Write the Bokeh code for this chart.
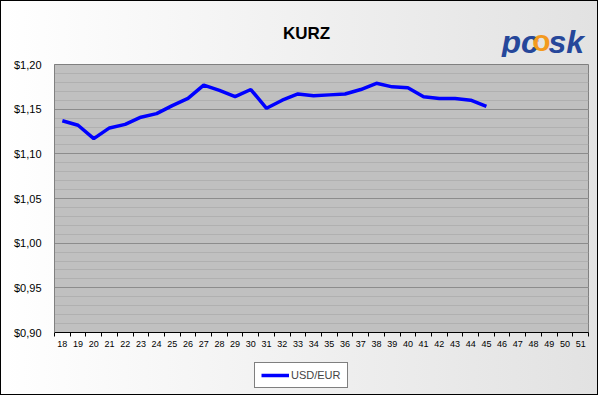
from bokeh.plotting import figure
from bokeh.layouts import column
from bokeh.models import (FixedTicker, Legend, LegendItem, CustomJSTickFormatter)
from bokeh.core.properties import value
from bokeh.embed import file_html
from bokeh.resources import INLINE

# ---- data ----
weeks = [str(w) for w in range(18, 52)]
usd_eur_weeks = [str(w) for w in range(18, 46)]
usd_eur = [1.137, 1.132, 1.117, 1.129, 1.133, 1.141, 1.145, 1.154, 1.162, 1.177,
           1.171, 1.164, 1.172, 1.151, 1.160, 1.167, 1.165, 1.166, 1.167, 1.172,
           1.179, 1.175, 1.174, 1.164, 1.162, 1.162, 1.160, 1.153]
y_ticks = [0.90, 0.95, 1.00, 1.05, 1.10, 1.15, 1.20]
y_minor = [round(0.90 + 0.01 * i, 2) for i in range(31)]
title_text = "KURZ"
series_name = "USD/EUR"

FONT = "Liberation Sans"
W = 596          # inner width (1px CSS border on each side -> 598)
HH = 56          # header height
MH = 303         # main chart height
FH = 34          # footer (legend) height
BL, BR = 53, 9   # left / right border of the chart frame

LINE_STYLE = dict(line_color="#0000FF", line_width=3.5)


def bare_figure(height, xr, yr):
    fig = figure(width=W, height=height, output_backend="svg", toolbar_location=None,
                 x_range=xr, y_range=yr, min_border=0,
                 min_border_left=BL, min_border_right=BR,
                 x_axis_location=None, y_axis_location=None)
    fig.grid.visible = False
    fig.outline_line_color = None
    fig.background_fill_color = None
    fig.border_fill_color = None
    return fig


# ---------- header (title + logo, decoration) ----------
# frames in a column are aligned with the chart frame, so the header's x range is
# given in pixels of the whole width for the part covered by that frame
hdr = bare_figure(HH, (BL, W - BR), (HH, 0))
hdr.text(x=[305], y=[32], text=[title_text], text_align="center", text_baseline="middle",
         text_font=value(FONT), text_font_size="17px", text_font_style="bold",
         text_color="black")
hdr.text(x=[500], y=[40], text=["pc"], text_align="left", text_baseline="alphabetic",
         text_font=value(FONT), text_font_size="32px", text_font_style="bold italic",
         text_color="#26479A")
hdr.text(x=[540], y=[39], text=["o"], text_align="center", text_baseline="alphabetic",
         text_font=value(FONT), text_font_size="30px", text_font_style="bold",
         text_color="#F39A1E")
hdr.text(x=[547], y=[40], text=["sk"], text_align="left", text_baseline="alphabetic",
         text_font=value(FONT), text_font_size="32px", text_font_style="bold italic",
         text_color="#26479A")

# ---------- main chart ----------
p = figure(width=W, height=MH, output_backend="svg", toolbar_location=None,
           x_range=(-0.5, len(weeks) - 0.5), y_range=(0.90, 1.20),
           min_border_left=BL, min_border_right=BR, min_border_top=7,
           min_border_bottom=28)
p.border_fill_color = None
p.background_fill_color = "#C0C0C0"
p.outline_line_color = "#808080"

xpos = list(range(len(weeks)))
xa = p.xaxis[0]
xa.ticker = FixedTicker(ticks=xpos, minor_ticks=[i - 0.5 for i in range(len(weeks) + 1)])
xa.major_label_overrides = {i: w for i, w in enumerate(weeks)}
xa.major_tick_line_color = None
xa.minor_tick_line_color = "black"
xa.minor_tick_in = 0
xa.minor_tick_out = 4
xa.axis_line_color = "black"
xa.major_label_standoff = 2
xa.major_label_text_font = FONT
xa.major_label_text_font_size = "9px"
xa.major_label_text_color = "black"

ya = p.yaxis[0]
ya.ticker = FixedTicker(ticks=y_ticks, minor_ticks=y_minor)
ya.formatter = CustomJSTickFormatter(code='return "$" + tick.toFixed(2).replace(".", ",");')
ya.major_tick_line_color = None
ya.minor_tick_line_color = None
ya.axis_line_color = "#808080"
ya.major_label_standoff = 7
ya.major_label_text_font = FONT
ya.major_label_text_font_size = "11px"
ya.major_label_text_color = "black"

p.xgrid.grid_line_color = None
p.ygrid.grid_line_color = "#8C8C8C"
p.ygrid.minor_grid_line_color = "#B0B0B0"

x_line = [weeks.index(w) for w in usd_eur_weeks]
r = p.line(x_line, usd_eur, **LINE_STYLE)

# ---------- footer (legend) ----------
ftr = bare_figure(FH, (0, 1), (0, 1))
# legend key renderer (kept outside the visible range)
r_key = ftr.line(x=[-5, -4], y=[-5, -5], **LINE_STYLE)
legend = Legend(items=[LegendItem(label=series_name, renderers=[r_key])],
                orientation="horizontal", location=(200, 6),
                border_line_color="black", border_line_width=1,
                background_fill_color="white", background_fill_alpha=1,
                glyph_width=28, glyph_height=10, label_height=10, label_width=20,
                padding=6, label_standoff=2, margin=0, spacing=0,
                label_text_font=FONT, label_text_font_size="11px")
ftr.add_layout(legend, "center")

layout = column(hdr, p, ftr, spacing=0)
layout.styles = {"background": "linear-gradient(to right, #FFFFFF, #E2E2E2)",
                 "border": "1px solid black"}

open("out.html", "w").write(file_html(layout, INLINE))
